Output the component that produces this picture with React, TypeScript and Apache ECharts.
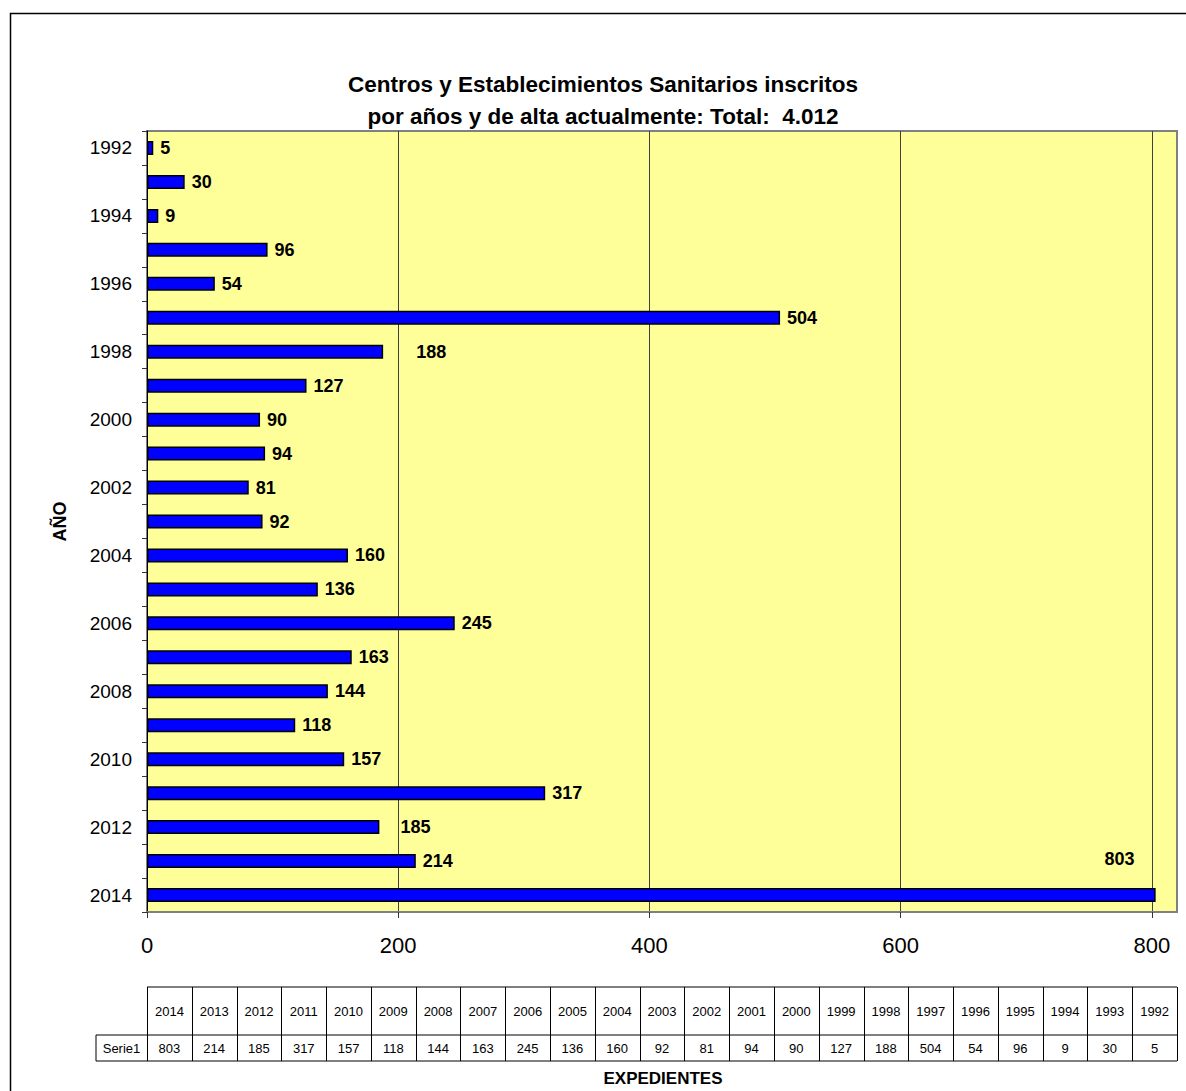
import React, { useEffect, useRef } from "react";
import * as echarts from "echarts";

const years = [
  "1992", "1993", "1994", "1995", "1996", "1997", "1998", "1999", "2000", "2001", "2002", "2003",
  "2004", "2005", "2006", "2007", "2008", "2009", "2010", "2011", "2012", "2013", "2014",
];
const values = [5, 30, 9, 96, 54, 504, 188, 127, 90, 94, 81, 92, 160, 136, 245, 163, 144, 118, 157, 317, 185, 214, 803];
const xTicks = [0, 200, 400, 600, 800];
const titleText = "Centros y Establecimientos Sanitarios inscritos\npor años y de alta actualmente: Total:  4.012";
const seriesName = "Serie1";
const yAxisName = "AÑO";
const xAxisName = "EXPEDIENTES";

// labels moved by hand in the original (to clear the gridline)
const labelShift: Record<string, number> = { "1998": 26, "2012": 14 };

const FONT = "'Liberation Sans', Arial, sans-serif";

// layout
const W = 1186;
const H = 1091;
const PL = 147;
const PT = 131;
const PW = 1030;
const PH = 781;
const TABLE_TOP = 987;
const TABLE_MID = 1035;
const TABLE_BOT = 1061;
const SERIE_LEFT = 96;

function buildTable() {
  const els: any[] = [];
  const n = years.length;
  const colW = PW / n;
  const right = PL + PW;
  const line = (x1: number, y1: number, x2: number, y2: number) => ({
    type: "line",
    shape: { x1, y1, x2, y2 },
    style: { stroke: "#000", lineWidth: 1 },
    silent: true,
  });
  els.push(line(PL, TABLE_TOP, right, TABLE_TOP));
  els.push(line(SERIE_LEFT, TABLE_MID, right, TABLE_MID));
  els.push(line(SERIE_LEFT, TABLE_BOT, right, TABLE_BOT));
  els.push(line(SERIE_LEFT, TABLE_MID, SERIE_LEFT, TABLE_BOT));
  for (let i = 0; i <= n; i++) {
    const x = Math.round(PL + i * colW) + 0.5;
    els.push(line(x, TABLE_TOP, x, TABLE_BOT));
  }
  const revYears = [...years].reverse();
  const revVals = [...values].reverse();
  revYears.forEach((y, i) => {
    const cx = PL + (i + 0.5) * colW;
    els.push({
      type: "text",
      x: cx,
      y: (TABLE_TOP + TABLE_MID) / 2,
      silent: true,
      style: { text: y, fill: "#000", fontSize: 13, fontFamily: FONT, align: "center", verticalAlign: "middle" },
    });
    els.push({
      type: "text",
      x: cx,
      y: (TABLE_MID + TABLE_BOT) / 2,
      silent: true,
      style: { text: String(revVals[i]), fill: "#000", fontSize: 13, fontFamily: FONT, align: "center", verticalAlign: "middle" },
    });
  });
  els.push({
    type: "text",
    x: (SERIE_LEFT + PL) / 2,
    y: (TABLE_MID + TABLE_BOT) / 2,
    silent: true,
    style: { text: seriesName, fill: "#000", fontSize: 13, fontFamily: FONT, align: "center", verticalAlign: "middle" },
  });
  els.push({
    type: "text",
    x: 663,
    y: 1078,
    silent: true,
    style: { text: xAxisName, fill: "#000", fontSize: 17, fontWeight: "bold", fontFamily: FONT, align: "center", verticalAlign: "middle" },
  });
  // outer chart border
  els.push({
    type: "rect",
    shape: { x: 10.5, y: 13.5, width: W, height: H },
    style: { fill: "none", stroke: "#000", lineWidth: 1.5 },
    silent: true,
    z: -1,
  });
  return els;
}

export default function App() {
  const ref = useRef<HTMLDivElement>(null);
  useEffect(() => {
    if (!ref.current) return;
    const chart = echarts.init(ref.current, undefined, { renderer: "svg" });
    const maxVal = Math.max(...values);
    chart.setOption({
      animation: false,
      backgroundColor: "#fff",
      title: {
        text: titleText,
        left: 598,
        top: 63,
        textAlign: "center",
        textStyle: { fontSize: 22.5, fontWeight: "bold", fontFamily: FONT, color: "#000", lineHeight: 32 },
      },
      grid: {
        left: PL,
        top: PT,
        width: PW,
        height: PH,
        show: true,
        backgroundColor: "#FFFF99",
        borderColor: "#808080",
        borderWidth: 2,
        containLabel: false,
      },
      xAxis: {
        type: "value",
        min: 0,
        max: 820,
        interval: 200,
        axisLine: { show: true, lineStyle: { color: "#808080", width: 2 } },
        axisTick: { show: true, length: 6, customValues: xTicks, lineStyle: { color: "#333" } },
        axisLabel: { customValues: xTicks, fontSize: 22, color: "#000", fontFamily: FONT, margin: 22 },
        splitLine: { show: true, lineStyle: { color: "#404040", width: 1 } },
      },
      yAxis: {
        type: "category",
        inverse: true,
        data: years,
        name: yAxisName,
        nameLocation: "middle",
        nameGap: 78,
        nameTextStyle: { fontSize: 18, fontWeight: "bold", fontFamily: FONT, color: "#000" },
        axisLine: { show: true, lineStyle: { color: "#000", width: 1 } },
        axisTick: { show: true, interval: 0, length: 5, alignWithLabel: false, lineStyle: { color: "#333" } },
        axisLabel: { interval: 1, fontSize: 19, color: "#000", fontFamily: FONT, margin: 15 },
        splitLine: { show: false },
      },
      series: [
        {
          name: seriesName,
          type: "bar",
          barWidth: 14,
          itemStyle: { color: "#0000FF", borderColor: "#000", borderWidth: 1.5 },
          label: {
            show: true,
            position: "right",
            distance: 7,
            fontSize: 18,
            fontWeight: "bold",
            color: "#000",
            fontFamily: FONT,
          },
          data: values.map((v, i) => {
            if (v === maxVal) {
              return { value: v, label: { position: "insideRight", offset: [-14, -36] } };
            }
            const shift = labelShift[years[i]];
            if (shift) return { value: v, label: { offset: [shift, 0] } };
            return v;
          }),
        },
      ],
      graphic: buildTable(),
    });
    return () => chart.dispose();
  }, []);
  return (
    <div
      ref={ref}
      style={{ position: "absolute", left: 0, top: 0, width: W, height: H }}
    />
  );
}
